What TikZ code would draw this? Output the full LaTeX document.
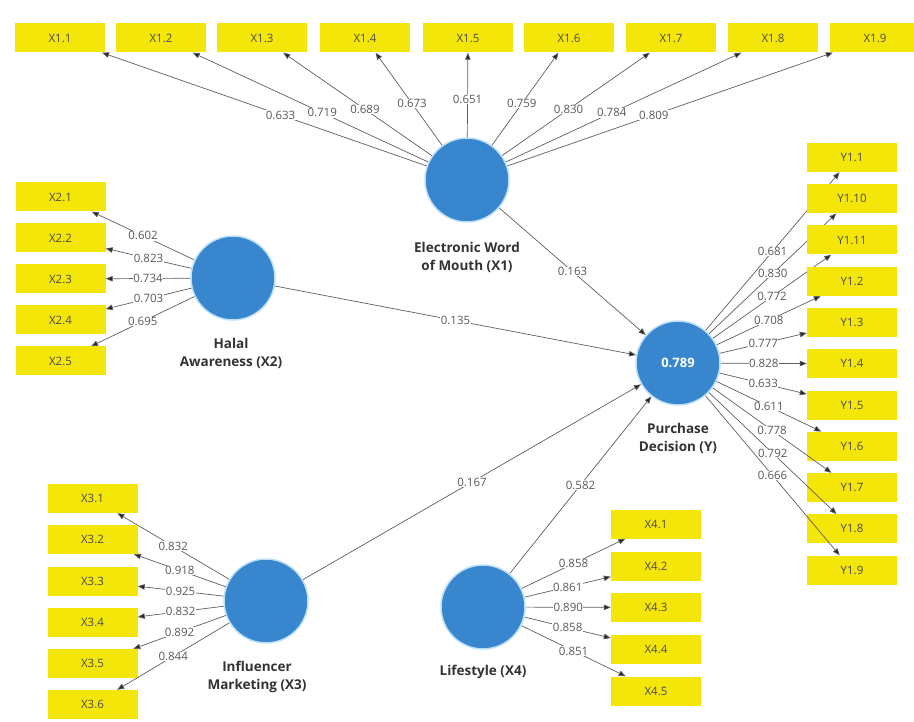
\documentclass[tikz,border=0pt]{standalone}
\usepackage{fontspec}
\setmainfont{Open Sans}
\usetikzlibrary{arrows.meta}
\definecolor{lvblue}{RGB}{56,134,206}
\definecolor{lvglow}{RGB}{190,225,250}
\definecolor{indy}{RGB}{244,230,8}
\definecolor{edgegray}{RGB}{95,95,95}
\begin{document}
\begin{tikzpicture}[x=1pt,y=-1pt,
  ind/.style={fill=indy, minimum width=90pt, minimum height=29pt, inner sep=0pt, font=\fontsize{11.5}{13}\selectfont, text=black!70},
  lv/.style={circle, fill=lvblue, draw=lvglow, line width=1.5pt, minimum size=84pt, inner sep=0pt},
  lvlabel/.style={font=\bfseries\fontsize{13.5}{18}\selectfont, align=center, text=black!80},
  ld/.style={draw=edgegray, line width=0.7pt, -{Triangle[length=7pt,width=5.5pt,fill=black!85]}},
  lab/.style={fill=white, inner sep=0.5pt, font=\fontsize{11.5}{12}\selectfont, text=black!65}
]
\useasboundingbox (0,0) rectangle (914,722);
\fill[white] (0,0) rectangle (914,722);

% latent variables
\node[lv] (X1) at (467,180) {};
\node[lv] (X2) at (233,278) {};
\node[lv] (X3) at (266,601) {};
\node[lv] (X4) at (483,607) {};
\node[lv, text=white, font=\bfseries\fontsize{13}{15}\selectfont] (Y) at (678,363) {0.789};

\node[lvlabel] (X1l) at (467,257) {Electronic Word\\of Mouth (X1)};
\node[lvlabel] (X2l) at (231,353) {Halal\\Awareness (X2)};
\node[lvlabel] (Yl) at (678,438) {Purchase\\Decision (Y)};
\node[lvlabel] (X3l) at (257,677) {Influencer\\Marketing (X3)};
\node[lvlabel] (X4l) at (483,672) {Lifestyle (X4)};

% X1 indicators
\foreach \n/\x/\v in {1/60/0.633,2/161/0.719,3/262/0.689,4/365/0.673,5/468/0.651,6/569/0.759,7/671/0.830,8/773/0.784,9/875/0.809}{
  \node[ind] (X1\n) at (\x,38) {X1.\n};
  \draw[ld] (X1) -- node[lab, pos=0.45]{\v} (X1\n);
}
% X2 indicators
\foreach \n/\y/\v in {1/197/0.602,2/238/0.823,3/279/0.734,4/320/0.703,5/361/0.695}{
  \node[ind] (X2\n) at (60.5,\y) {X2.\n};
  \draw[ld] (X2) -- node[lab]{\v} (X2\n);
}
% X3 indicators
\foreach \n/\y/\v in {1/498.5/0.832,2/539.5/0.918,3/581/0.925,4/622.5/0.832,5/663.5/0.892,6/704.5/0.844}{
  \node[ind] (X3\n) at (92.5,\y) {X3.\n};
  \draw[ld] (X3) -- node[lab]{\v} (X3\n);
}
% X4 indicators
\foreach \n/\y/\v in {1/524/0.858,2/566/0.861,3/607.5/0.890,4/649/0.858,5/691/0.851}{
  \node[ind] (X4\n) at (656,\y) {X4.\n};
  \draw[ld] (X4) -- node[lab]{\v} (X4\n);
}
% Y indicators
\foreach \k/\y/\t/\v in {1/157.5/Y1.1/0.681,2/198.75/Y1.10/0.830,3/240/Y1.11/0.772,4/281.25/Y1.2/0.708,5/322.5/Y1.3/0.777,6/363.75/Y1.4/0.828,7/405/Y1.5/0.633,8/446.25/Y1.6/0.611,9/487.5/Y1.7/0.778,10/528.75/Y1.8/0.792,11/570/Y1.9/0.666}{
  \node[ind] (Yi\k) at (852,\y) {\t};
  \draw[ld] (Y) -- node[lab]{\v} (Yi\k);
}

% structural paths
\draw[ld] (X1) -- node[lab]{0.163} (Y);
\draw[ld] (X2) -- node[lab]{0.135} (Y);
\draw[ld] (X3) -- node[lab]{0.167} (Y);
\draw[ld] (X4) -- node[lab]{0.582} (Y);
\end{tikzpicture}
\end{document}
